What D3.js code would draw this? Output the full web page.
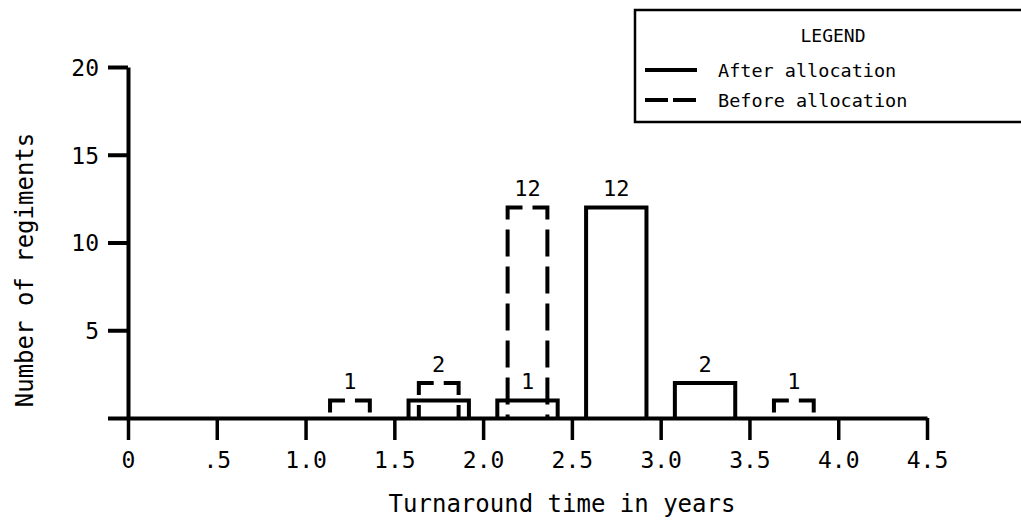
<!DOCTYPE html>
<html>
<head>
<meta charset="utf-8">
<script src="https://cdn.jsdelivr.net/npm/d3@7"></script>
<style>
  html, body { margin: 0; padding: 0; background: #fff; }
  svg { display: block; }
  text { font-family: "DejaVu Sans Mono", "Liberation Mono", monospace; fill: #000; }
</style>
</head>
<body>
<svg id="chart" width="1021" height="520"></svg>
<script>
// ---- data ----
const xTickValues = [0, 0.5, 1.0, 1.5, 2.0, 2.5, 3.0, 3.5, 4.0, 4.5];
const xTickLabels = ["0", ".5", "1.0", "1.5", "2.0", "2.5", "3.0", "3.5", "4.0", "4.5"];
const yTickValues = [0, 5, 10, 15, 20];
const yTickLabels = ["", "5", "10", "15", "20"];

const beforeCenters = [1.25, 1.75, 2.25, 3.75];
const beforeCounts  = [1, 2, 12, 1];
const beforeLabels  = ["1", "2", "12", "1"];

const afterCenters = [1.75, 2.25, 2.75, 3.25];
const afterCounts  = [1, 1, 12, 2];
const afterLabels  = ["", "1", "12", "2"];

const xTitle = "Turnaround time in years";
const yTitle = "Number of regiments";
const legendTitle = "LEGEND";
const seriesNames = ["After allocation", "Before allocation"];

// ---- layout ----
const svg = d3.select("#chart");
const x = d3.scaleLinear().domain([0, 4.5]).range([128, 927]);
const y = d3.scaleLinear().domain([0, 20]).range([418, 67]);
const beforeHalf = 0.112;
const afterHalf = 0.17;

// axes
const xAxis = d3.axisBottom(x).tickValues(xTickValues).tickFormat((d, i) => xTickLabels[i])
  .tickSizeInner(22).tickSizeOuter(0).tickPadding(0);
const gx = svg.append("g").attr("transform", `translate(0,${y(0)})`).call(xAxis);
gx.select(".domain").attr("stroke", "#000").attr("stroke-width", 4);
gx.selectAll(".tick line").attr("stroke", "#000").attr("stroke-width", 3.5);
gx.selectAll(".tick text").attr("y", 50).attr("dy", 0).attr("font-size", 23)
  .style("font-family", '"DejaVu Sans Mono", monospace');

const yAxis = d3.axisLeft(y).tickValues(yTickValues).tickFormat((d, i) => yTickLabels[i])
  .tickSizeInner(20).tickSizeOuter(0).tickPadding(0);
const gy = svg.append("g").attr("transform", `translate(${x(0)},0)`).call(yAxis);
gy.select(".domain").attr("stroke", "#000").attr("stroke-width", 4);
gy.selectAll(".tick line").attr("stroke", "#000").attr("stroke-width", 4);
gy.selectAll(".tick text").attr("x", -29).attr("dy", "0.36em").attr("font-size", 23)
  .style("font-family", '"DejaVu Sans Mono", monospace');

// after bars (solid)
const after = afterCenters.map((c, i) => ({c, v: afterCounts[i], label: afterLabels[i]}));
svg.append("g").selectAll("path").data(after).join("path")
  .attr("d", d => `M${x(d.c - afterHalf)},${y(0)} V${y(d.v)} H${x(d.c + afterHalf)} V${y(0)}`)
  .attr("fill", "none").attr("stroke", "#000").attr("stroke-width", 4)
  .attr("stroke-linejoin", "miter");

// before bars (dashed): drawn from top-middle outward to each side
const before = beforeCenters.map((c, i) => ({c, v: beforeCounts[i], label: beforeLabels[i]}));
const gb = svg.append("g");
before.forEach(d => {
  const xm = x(d.c), yt = y(d.v);
  [x(d.c - beforeHalf), x(d.c + beforeHalf)].forEach(xe => {
    gb.append("path")
      .attr("d", `M${xm},${yt} H${xe} V${y(0)}`)
      .attr("fill", "none").attr("stroke", "#000").attr("stroke-width", 4)
      .attr("stroke-dasharray", "27 10").attr("stroke-dashoffset", 32);
  });
});

// value labels
svg.append("g").selectAll("text").data(before.concat(after).filter(d => d.label)).join("text")
  .attr("x", d => x(d.c)).attr("y", d => y(d.v) - 11)
  .attr("text-anchor", "middle").attr("font-size", 22)
  .text(d => d.label);

// titles
svg.append("text").attr("x", 562).attr("y", 512).attr("text-anchor", "middle")
  .attr("font-size", 24).text(xTitle);
svg.append("text").attr("transform", "translate(33,270) rotate(-90)")
  .attr("text-anchor", "middle").attr("font-size", 24).text(yTitle);

// legend
const lg = svg.append("g");
lg.append("path").attr("d", "M1030,10 H635 V122 H1030")
  .attr("fill", "none").attr("stroke", "#000").attr("stroke-width", 2.5);
lg.append("text").attr("x", 833).attr("y", 42).attr("text-anchor", "middle")
  .attr("font-size", 18).text(legendTitle);
const legRows = [{name: seriesNames[0], dash: null, y: 70}, {name: seriesNames[1], dash: "23 5", y: 100}];
legRows.forEach(r => {
  lg.append("line").attr("x1", 645).attr("x2", 697).attr("y1", r.y).attr("y2", r.y)
    .attr("stroke", "#000").attr("stroke-width", 4).attr("stroke-dasharray", r.dash);
  lg.append("text").attr("x", 718).attr("y", r.y + 7).attr("font-size", 18.5).text(r.name);
});
</script>
</body>
</html>
